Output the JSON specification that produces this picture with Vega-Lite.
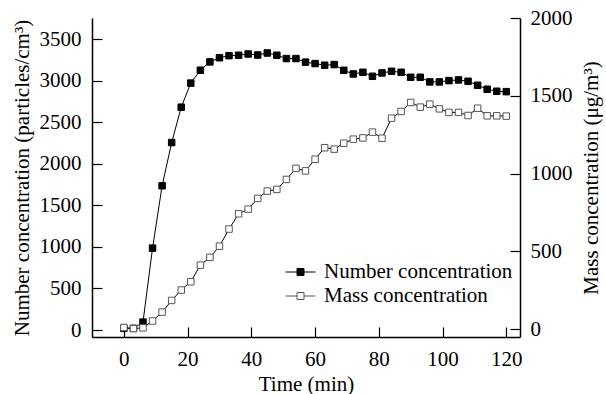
{
  "$schema": "https://vega.github.io/schema/vega-lite/v6.json",
  "width": 428,
  "height": 319,
  "autosize": {"type": "none"},
  "padding": {"left": 92, "top": 18, "right": 86, "bottom": 57},
  "background": "white",
  "config": {
    "view": {"stroke": null},
    "font": "Liberation Serif",
    "axis": {
      "grid": false,
      "domainColor": "black",
      "domainWidth": 1.5,
      "tickColor": "black",
      "tickWidth": 1.2,
      "tickSize": -10,
      "labelColor": "black",
      "titleColor": "black",
      "labelFont": "Liberation Serif",
      "titleFont": "Liberation Serif",
      "labelFontSize": 21,
      "titleFontSize": 21,
      "titleFontWeight": "normal",
      "labelPadding": 20,
      "format": "d"
    },
    "legend": {
      "labelFont": "Liberation Serif",
      "labelFontSize": 21,
      "labelColor": "black",
      "labelLimit": 400,
      "title": null,
      "orient": "none",
      "legendX": 193,
      "legendY": 242,
      "padding": 0,
      "symbolType": "M-1,0H-0.233M0.233,0H1M-0.233,-0.233H0.233V0.233H-0.233Z",
      "symbolSize": 900,
      "symbolStrokeWidth": 1,
      "clipHeight": 24,
      "rowPadding": 0,
      "labelOffset": 8
    }
  },
  "data": {
    "values": [
      {"t": 0, "series": "Number concentration", "value": 20},
      {"t": 3, "series": "Number concentration", "value": 20},
      {"t": 6, "series": "Number concentration", "value": 95},
      {"t": 9, "series": "Number concentration", "value": 985},
      {"t": 12, "series": "Number concentration", "value": 1735},
      {"t": 15, "series": "Number concentration", "value": 2255},
      {"t": 18, "series": "Number concentration", "value": 2680},
      {"t": 21, "series": "Number concentration", "value": 2970},
      {"t": 24, "series": "Number concentration", "value": 3125},
      {"t": 27, "series": "Number concentration", "value": 3225},
      {"t": 30, "series": "Number concentration", "value": 3275},
      {"t": 33, "series": "Number concentration", "value": 3300},
      {"t": 36, "series": "Number concentration", "value": 3305},
      {"t": 39, "series": "Number concentration", "value": 3320},
      {"t": 42, "series": "Number concentration", "value": 3308},
      {"t": 45, "series": "Number concentration", "value": 3332},
      {"t": 48, "series": "Number concentration", "value": 3305},
      {"t": 51, "series": "Number concentration", "value": 3265},
      {"t": 54, "series": "Number concentration", "value": 3265},
      {"t": 57, "series": "Number concentration", "value": 3222},
      {"t": 60, "series": "Number concentration", "value": 3205},
      {"t": 63, "series": "Number concentration", "value": 3185},
      {"t": 66, "series": "Number concentration", "value": 3193},
      {"t": 69, "series": "Number concentration", "value": 3124},
      {"t": 72, "series": "Number concentration", "value": 3080},
      {"t": 75, "series": "Number concentration", "value": 3100},
      {"t": 78, "series": "Number concentration", "value": 3052},
      {"t": 81, "series": "Number concentration", "value": 3092},
      {"t": 84, "series": "Number concentration", "value": 3112},
      {"t": 87, "series": "Number concentration", "value": 3100},
      {"t": 90, "series": "Number concentration", "value": 3040},
      {"t": 93, "series": "Number concentration", "value": 3040},
      {"t": 96, "series": "Number concentration", "value": 2984},
      {"t": 99, "series": "Number concentration", "value": 2984},
      {"t": 102, "series": "Number concentration", "value": 3000},
      {"t": 105, "series": "Number concentration", "value": 3008},
      {"t": 108, "series": "Number concentration", "value": 2992},
      {"t": 111, "series": "Number concentration", "value": 2944},
      {"t": 114, "series": "Number concentration", "value": 2896},
      {"t": 117, "series": "Number concentration", "value": 2872},
      {"t": 120, "series": "Number concentration", "value": 2867},
      {"t": 0, "series": "Mass concentration", "value": 10},
      {"t": 3, "series": "Mass concentration", "value": 3},
      {"t": 6, "series": "Mass concentration", "value": 8},
      {"t": 9, "series": "Mass concentration", "value": 52},
      {"t": 12, "series": "Mass concentration", "value": 109},
      {"t": 15, "series": "Mass concentration", "value": 184},
      {"t": 18, "series": "Mass concentration", "value": 251},
      {"t": 21, "series": "Mass concentration", "value": 304},
      {"t": 24, "series": "Mass concentration", "value": 411},
      {"t": 27, "series": "Mass concentration", "value": 461},
      {"t": 30, "series": "Mass concentration", "value": 533},
      {"t": 33, "series": "Mass concentration", "value": 643},
      {"t": 36, "series": "Mass concentration", "value": 741},
      {"t": 39, "series": "Mass concentration", "value": 771},
      {"t": 42, "series": "Mass concentration", "value": 840},
      {"t": 45, "series": "Mass concentration", "value": 887},
      {"t": 48, "series": "Mass concentration", "value": 898},
      {"t": 51, "series": "Mass concentration", "value": 962},
      {"t": 54, "series": "Mass concentration", "value": 1033},
      {"t": 57, "series": "Mass concentration", "value": 1017},
      {"t": 60, "series": "Mass concentration", "value": 1092},
      {"t": 63, "series": "Mass concentration", "value": 1166},
      {"t": 66, "series": "Mass concentration", "value": 1157},
      {"t": 69, "series": "Mass concentration", "value": 1195},
      {"t": 72, "series": "Mass concentration", "value": 1221},
      {"t": 75, "series": "Mass concentration", "value": 1229},
      {"t": 78, "series": "Mass concentration", "value": 1266},
      {"t": 81, "series": "Mass concentration", "value": 1227},
      {"t": 84, "series": "Mass concentration", "value": 1356},
      {"t": 87, "series": "Mass concentration", "value": 1399},
      {"t": 90, "series": "Mass concentration", "value": 1457},
      {"t": 93, "series": "Mass concentration", "value": 1427},
      {"t": 96, "series": "Mass concentration", "value": 1446},
      {"t": 99, "series": "Mass concentration", "value": 1416},
      {"t": 102, "series": "Mass concentration", "value": 1393},
      {"t": 105, "series": "Mass concentration", "value": 1393},
      {"t": 108, "series": "Mass concentration", "value": 1373},
      {"t": 111, "series": "Mass concentration", "value": 1420},
      {"t": 114, "series": "Mass concentration", "value": 1371},
      {"t": 117, "series": "Mass concentration", "value": 1371},
      {"t": 120, "series": "Mass concentration", "value": 1369}
    ]
  },
  "encoding": {
    "x": {
      "field": "t",
      "type": "quantitative",
      "scale": {"domain": [-10, 124.3], "nice": false, "zero": false},
      "axis": {"values": [0, 20, 40, 60, 80, 100, 120], "title": "Time (min)", "titlePadding": 4, "labelPadding": 21}
    }
  },
  "layer": [
    {
      "transform": [{"filter": "datum.series === 'Number concentration'"}],
      "encoding": {
        "y": {
          "field": "value",
          "type": "quantitative",
          "scale": {"domain": [-84, 3753], "nice": false, "zero": false},
          "axis": {
            "orient": "left",
            "values": [0, 500, 1000, 1500, 2000, 2500, 3000, 3500],
            "title": "Number concentration (particles/cm³)",
            "labelPadding": 21,
            "titlePadding": 7
          }
        }
      },
      "layer": [
        {"mark": {"type": "line", "color": "black", "strokeWidth": 1}},
        {
          "mark": {"type": "point", "shape": "square", "size": 42, "strokeWidth": 1, "opacity": 1},
          "encoding": {
            "fill": {"field": "series", "type": "nominal", "scale": {"domain": ["Number concentration", "Mass concentration"], "range": ["black", "white"]}},
            "stroke": {"field": "series", "type": "nominal", "scale": {"domain": ["Number concentration", "Mass concentration"], "range": ["black", "#555555"]}}
          }
        }
      ]
    },
    {
      "transform": [{"filter": "datum.series === 'Mass concentration'"}],
      "encoding": {
        "y": {
          "field": "value",
          "type": "quantitative",
          "scale": {"domain": [-51, 2000], "nice": false, "zero": false},
          "axis": {
            "orient": "right",
            "values": [0, 500, 1000, 1500, 2000],
            "title": "Mass concentration (μg/m³)",
            "titleAngle": 270,
            "titleBaseline": "top",
            "titlePadding": 8
          }
        }
      },
      "layer": [
        {"mark": {"type": "line", "color": "black", "strokeWidth": 1}},
        {
          "mark": {"type": "point", "shape": "square", "size": 42, "strokeWidth": 1, "opacity": 1},
          "encoding": {
            "fill": {"field": "series", "type": "nominal", "scale": {"domain": ["Number concentration", "Mass concentration"], "range": ["black", "white"]}},
            "stroke": {"field": "series", "type": "nominal", "scale": {"domain": ["Number concentration", "Mass concentration"], "range": ["black", "#555555"]}}
          }
        }
      ]
    }
  ],
  "resolve": {"scale": {"y": "independent"}}
}
